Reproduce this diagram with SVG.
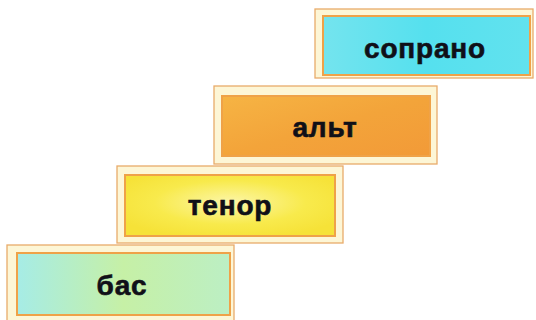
<svg xmlns="http://www.w3.org/2000/svg" width="536" height="320" viewBox="0 0 536 320">
<defs>
<linearGradient id="gS" x1="0" y1="0" x2="1" y2="0">
<stop offset="0" stop-color="#74e4ee"/><stop offset="0.5" stop-color="#55e0ee"/><stop offset="1" stop-color="#62e2ee"/>
</linearGradient>
<linearGradient id="gA" x1="0" y1="0" x2="1" y2="1">
<stop offset="0" stop-color="#f6b444"/><stop offset="0.5" stop-color="#f3a43a"/><stop offset="1" stop-color="#f29a38"/>
</linearGradient>
<radialGradient id="gT" cx="0.5" cy="0.45" r="0.6">
<stop offset="0" stop-color="#fcf6a8"/><stop offset="0.6" stop-color="#f8ea4c"/><stop offset="1" stop-color="#f6e238"/>
</radialGradient>
<linearGradient id="gB" x1="0" y1="0" x2="1" y2="0">
<stop offset="0" stop-color="#a6ece6"/><stop offset="0.5" stop-color="#c6f0a6"/><stop offset="1" stop-color="#bcefc4"/>
</linearGradient>
<style>
.outer{fill:#fdf6d6;stroke:#e9ab6a;stroke-width:1.3}
.inner{stroke:#efa248;stroke-width:2}
.lbl{font-family:"Liberation Sans",Arial,sans-serif;font-weight:bold;font-size:28px;fill:#101018;stroke:#101018;stroke-width:0.6;text-anchor:middle;letter-spacing:0.8px}
</style>
</defs>
<rect width="536" height="320" fill="#ffffff"/>
<g id="node-soprano">
<rect class="outer" x="315" y="9" width="218" height="69"/>
<rect class="inner" x="323" y="16" width="207" height="59" fill="url(#gS)"/>
<text class="lbl" x="425" y="58">сопрано</text>
</g>
<g id="node-alt">
<rect class="outer" x="214" y="86" width="223" height="78"/>
<rect class="inner" x="222" y="96" width="208" height="60" fill="url(#gA)"/>
<text class="lbl" x="325" y="137">альт</text>
</g>
<g id="node-tenor">
<rect class="outer" x="117" y="166" width="226" height="77"/>
<rect class="inner" x="125" y="175" width="210" height="61" fill="url(#gT)"/>
<text class="lbl" x="230" y="215">тенор</text>
</g>
<g id="node-bas">
<rect class="outer" x="7" y="245" width="227" height="78"/>
<rect class="inner" x="17" y="253" width="213" height="62" fill="url(#gB)"/>
<text class="lbl" x="122" y="295">бас</text>
</g>
<g id="connectors"></g>
</svg>
